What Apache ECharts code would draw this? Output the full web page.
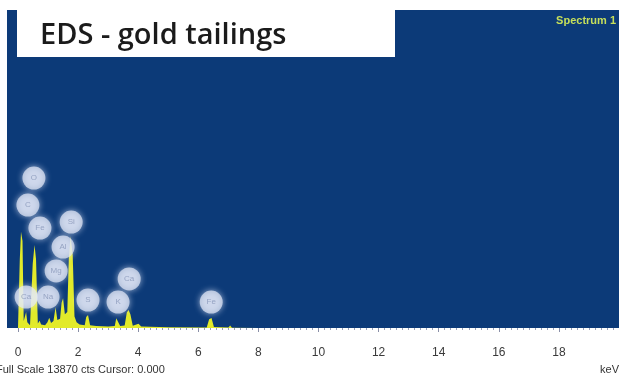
<!DOCTYPE html>
<html>
<head>
<meta charset="utf-8">
<script src="https://cdn.jsdelivr.net/npm/echarts@6/dist/echarts.min.js"></script>
<style>
  html, body { margin: 0; padding: 0; background: #ffffff; }
  #chart { width: 619px; height: 378px; }
</style>
</head>
<body>
<div id="chart"></div>
<script>
// EDS spectrum of gold tailings: energy (keV) vs counts
const fullScaleCounts = 13870;
const cursorValue = '0.000';

const specEnergy = [0.00, 0.02, 0.06, 0.10, 0.15, 0.19, 0.24, 0.27, 0.31, 0.40,
                    0.44, 0.49, 0.55, 0.60, 0.66, 0.72, 0.77, 0.90, 0.98, 1.04,
                    1.10, 1.18, 1.25, 1.31, 1.40, 1.45, 1.50, 1.56, 1.64, 1.69,
                    1.75, 1.82, 1.88, 1.95, 2.05, 2.22, 2.27, 2.33, 2.40, 2.60,
                    3.00, 3.22, 3.27, 3.33, 3.40, 3.55, 3.62, 3.68, 3.74, 3.82,
                    4.01, 4.10, 5.00, 6.28, 6.36, 6.44, 6.52, 7.00, 7.06, 7.12,
                    8.00, 20.00];
const specCounts = [0, 0, 3000, 4200, 3800, 300, 300, 700, 250, 120,
                    150, 2800, 3620, 3000, 200, 320, 150, 120, 250, 450,
                    220, 300, 900, 350, 400, 1100, 1300, 600, 700, 3000,
                    4000, 3200, 500, 250, 150, 120, 480, 570, 120, 90,
                    60, 90, 420, 480, 90, 110, 680, 790, 600, 100,
                    180, 60, 30, 20, 380, 440, 40, 20, 110, 10,
                    0, 0];

// Element markers: symbol, energy (keV), height (counts)
const peakLabels  = ['O', 'C', 'Fe', 'Si', 'Al', 'Mg', 'Ca', 'Na', 'S', 'K', 'Ca', 'Fe'];
const labelEnergy = [0.53, 0.33, 0.73, 1.77, 1.50, 1.27, 0.27, 1.00, 2.33, 3.33, 3.70, 6.43];
const labelCounts = [6540, 5360, 4360, 4620, 3530, 2490, 1350, 1350, 1220, 1130, 2140, 1130];

const axisMin = 0;
const axisMax = 20;
const tickStep = 2;

const spectrum = specEnergy.map((e, i) => [e, specCounts[i]]);
const markers = labelEnergy.map((e, i) => ({ value: [e, labelCounts[i]], name: peakLabels[i] }));

const chart = echarts.init(document.getElementById('chart'), null, { renderer: 'canvas' });

chart.setOption({
  animation: false,
  backgroundColor: '#ffffff',
  grid: { left: 18, right: 0, top: 10, bottom: 50 },
  xAxis: {
    type: 'value',
    min: axisMin,
    max: axisMax,
    interval: tickStep,
    axisLine: { show: false },
    axisTick: { show: true, length: 4, lineStyle: { color: '#8a8fa8', width: 1 } },
    minorTick: { show: true, splitNumber: 10, length: 2, lineStyle: { color: '#9aa0b8' } },
    splitLine: { show: false },
    axisLabel: {
      margin: 19,
      color: '#3a3a3a',
      fontFamily: 'Liberation Sans, Arial, sans-serif',
      fontSize: 12,
      showMaxLabel: false
    }
  },
  yAxis: {
    type: 'value',
    min: 0,
    max: fullScaleCounts,
    show: false,
    splitLine: { show: false }
  },
  graphic: [
    { type: 'rect', left: 7, top: 10, z: 0,
      shape: { width: 612, height: 318 }, style: { fill: '#0c3a78' } },
    { type: 'rect', left: 17, top: 10, z: 10,
      shape: { width: 378, height: 47 }, style: { fill: '#ffffff' } },
    { type: 'text', left: 40, top: 21, z: 11,
      style: { text: 'EDS - gold tailings', fill: '#1b1b1b',
               font: '600 29px "Open Sans", sans-serif' } },
    { type: 'text', right: 3, top: 15, z: 11,
      style: { text: 'Spectrum 1', fill: '#c6df5a',
               font: 'bold 11px "Liberation Sans", Arial, sans-serif' } },
    { type: 'text', left: -4, top: 364, z: 11,
      style: { text: 'Full Scale ' + fullScaleCounts + ' cts Cursor: ' + cursorValue, fill: '#333333',
               font: '11px "Liberation Sans", Arial, sans-serif' } },
    { type: 'text', right: 0, top: 364, z: 11,
      style: { text: 'keV', fill: '#333333',
               font: '11px "Liberation Sans", Arial, sans-serif' } }
  ],
  series: [
    {
      type: 'line',
      data: spectrum,
      symbol: 'none',
      smooth: false,
      z: 3,
      lineStyle: { width: 0 },
      areaStyle: { color: '#e2ea2a', opacity: 1 }
    },
    {
      type: 'scatter',
      data: markers,
      symbol: 'circle',
      symbolSize: 23,
      z: 4,
      itemStyle: {
        color: 'rgba(226,232,246,0.9)',
        shadowBlur: 6,
        shadowColor: 'rgba(235,240,255,0.9)'
      },
      label: {
        show: true,
        position: 'inside',
        formatter: p => p.name,
        color: '#8796b8',
        fontSize: 8,
        fontFamily: 'Liberation Sans, Arial, sans-serif'
      }
    }
  ]
});
</script>
</body>
</html>
